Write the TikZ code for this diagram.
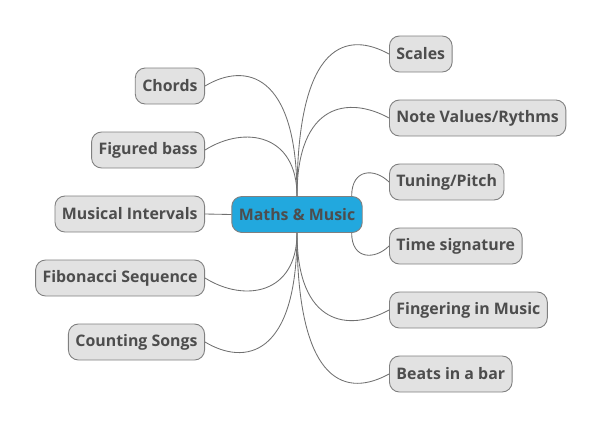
\documentclass[tikz,border=0pt]{standalone}
\usepackage{fontspec}
\setmainfont{Open Sans}
\usetikzlibrary{calc}
\definecolor{boxfill}{HTML}{E2E2E2}
\definecolor{boxline}{HTML}{808080}
\definecolor{txt}{HTML}{4D4D4D}
\definecolor{rootfill}{HTML}{22A8DE}
\definecolor{edge}{HTML}{707070}
\tikzset{
  topic/.style={draw=boxline, line width=0.9pt, fill=boxfill, rounded corners=10pt,
    minimum height=36pt, inner xsep=7pt, inner ysep=0pt, text=txt,
    font=\bfseries\fontsize{15.9}{18}\selectfont},
  roottopic/.style={topic, fill=rootfill},
  link/.style={draw=edge, line width=0.85pt}
}
\begin{document}
\begin{tikzpicture}[x=1pt,y=-1pt]
\useasboundingbox (0,0) rectangle (604,431);
\node[roottopic] (root) at (297,214.5) {Maths \& Music};
% left
\node[topic, anchor=east] (chords) at (205,86) {Chords};
\node[topic, anchor=east] (figbass) at (205,150) {Figured bass};
\node[topic, anchor=east] (intervals) at (205,214) {Musical Intervals};
\node[topic, anchor=east] (fib) at (205,278) {Fibonacci Sequence};
\node[topic, anchor=east] (counting) at (205,342) {Counting Songs};
% right
\node[topic, anchor=west] (scales) at (389,54) {Scales};
\node[topic, anchor=west] (notevalues) at (389,118) {Note Values/Rythms};
\node[topic, anchor=west] (tuning) at (389,182) {Tuning/Pitch};
\node[topic, anchor=west] (timesig) at (389,246) {Time signature};
\node[topic, anchor=west] (fingering) at (389,310) {Fingering in Music};
\node[topic, anchor=west] (beats) at (389,374) {Beats in a bar};
\coordinate (rtop) at ([xshift=-11pt]root.north east);
\coordinate (rbot) at ([xshift=-11pt]root.south east);
% connectors
\draw[link] (chords.east) .. controls +(40,-24) and +(0,-124) .. (root.north);
\draw[link] (figbass.east) .. controls +(40,-25) and +(0,-62) .. (root.north);
\draw[link] (intervals.east) -- (root.west);
\draw[link] (fib.east) .. controls +(40,25) and +(0,61) .. (root.south);
\draw[link] (counting.east) .. controls +(40,24) and +(0,124) .. (root.south);
\draw[link] (scales.west) .. controls +(-40,-22) and +(0,-158) .. (root.north);
\draw[link] (notevalues.west) .. controls +(-40,-22) and +(0,-94) .. (root.north);
\draw[link] (tuning.west) .. controls +(-14,-14) and +(0,-28) .. (rtop);
\draw[link] (timesig.west) .. controls +(-14,14) and +(0,27) .. (rbot);
\draw[link] (fingering.west) .. controls +(-40,22) and +(0,93) .. (root.south);
\draw[link] (beats.west) .. controls +(-40,22) and +(0,157) .. (root.south);
\end{tikzpicture}
\end{document}
